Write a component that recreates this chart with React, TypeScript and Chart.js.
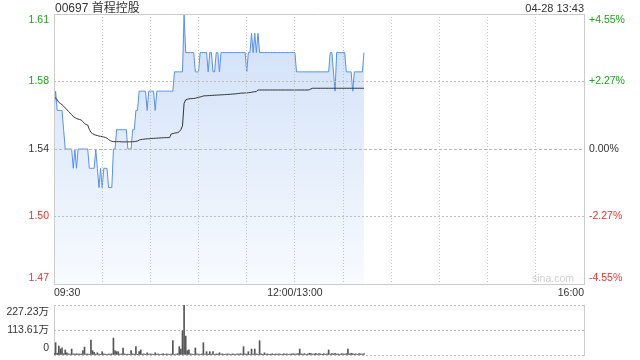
import React, { useEffect, useRef } from "react";
import { Chart, registerables } from "chart.js";

Chart.register(...registerables);

// ---------- texts ----------
const TITLE = "00697 首程控股";
const STAMP = "04-28 13:43";
const WATERMARK = "sina.com";

// ---------- axes ----------
const PRICE_MIN = 1.47;
const PRICE_MAX = 1.61;
const priceGridValues = [1.505, 1.575];
const PRICE_BASE = 1.54;
const priceLabelValues = [1.4731, 1.505, 1.54, 1.575, 1.6069];
const priceTickLabels = ["1.47", "1.50", "1.54", "1.58", "1.61"];
const pctTickLabels = ["-4.55%", "-2.27%", "0.00%", "+2.27%", "+4.55%"];
const timeTicks = [0, 30, 60, 90, 120, 150, 180, 210, 240, 270, 300, 330];
const timeTickLabels: Record<number, string> = { 0: "09:30", 150: "12:00/13:00", 330: "16:00" };
const VOL_MAX = 227.23;
const volGridValues = [0, 113.615, 227.23];
const volLabelValues = [31.8, 113.615, 195.4];
const volTickLabels = ["0", "113.61万", "227.23万"];

// ---------- series (one value per trading minute from 09:30) ----------
const price = [
  1.56, 1.57, 1.56, 1.56, 1.56, 1.56, 1.55, 1.54, 1.54, 1.54,
  1.54, 1.54, 1.53, 1.54, 1.53, 1.54, 1.54, 1.54, 1.54, 1.54,
  1.54, 1.54, 1.53, 1.53, 1.53, 1.53, 1.54, 1.53, 1.52, 1.53,
  1.52, 1.53, 1.53, 1.53, 1.52, 1.52, 1.52, 1.54, 1.54, 1.55,
  1.55, 1.55, 1.55, 1.55, 1.55, 1.55, 1.54, 1.54, 1.54, 1.55,
  1.55, 1.56, 1.56, 1.57, 1.57, 1.57, 1.57, 1.57, 1.56, 1.57,
  1.57, 1.57, 1.57, 1.56, 1.57, 1.57, 1.57, 1.57, 1.57, 1.57,
  1.57, 1.57, 1.57, 1.57, 1.57, 1.58, 1.58, 1.58, 1.58, 1.58,
  1.58, 1.61, 1.59, 1.59, 1.59, 1.59, 1.59, 1.59, 1.58, 1.58,
  1.58, 1.59, 1.59, 1.59, 1.59, 1.59, 1.58, 1.59, 1.59, 1.58,
  1.58, 1.59, 1.59, 1.58, 1.59, 1.59, 1.59, 1.59, 1.59, 1.59,
  1.59, 1.59, 1.59, 1.59, 1.59, 1.59, 1.59, 1.59, 1.59, 1.59,
  1.58, 1.59, 1.59, 1.60, 1.59, 1.60, 1.59, 1.60, 1.59, 1.59,
  1.59, 1.59, 1.59, 1.59, 1.59, 1.59, 1.59, 1.59, 1.59, 1.59,
  1.59, 1.59, 1.59, 1.59, 1.59, 1.59, 1.59, 1.59, 1.59, 1.59,
  1.59, 1.58, 1.58, 1.58, 1.58, 1.58, 1.58, 1.58, 1.58, 1.58,
  1.58, 1.58, 1.58, 1.58, 1.58, 1.58, 1.58, 1.58, 1.58, 1.58,
  1.58, 1.58, 1.59, 1.59, 1.58, 1.57, 1.59, 1.59, 1.59, 1.59,
  1.59, 1.59, 1.58, 1.58, 1.58, 1.58, 1.57, 1.58, 1.58, 1.58,
  1.58, 1.58, 1.58, 1.59,
];

const avgPrice = [
  1.5670, 1.5665, 1.5655, 1.5642, 1.5636, 1.5630, 1.5622, 1.5613, 1.5604, 1.5595,
  1.5587, 1.5578, 1.5568, 1.5563, 1.5558, 1.5555, 1.5553, 1.5550, 1.5541, 1.5532,
  1.5527, 1.5524, 1.5502, 1.5486, 1.5480, 1.5475, 1.5472, 1.5470, 1.5467, 1.5466,
  1.5464, 1.5462, 1.5460, 1.5456, 1.5449, 1.5443, 1.5440, 1.5438, 1.5438, 1.5438,
  1.5438, 1.5438, 1.5437, 1.5437, 1.5437, 1.5437, 1.5437, 1.5437, 1.5437, 1.5438,
  1.5438, 1.5440, 1.5441, 1.5446, 1.5449, 1.5450, 1.5451, 1.5452, 1.5453, 1.5453,
  1.5454, 1.5455, 1.5455, 1.5456, 1.5456, 1.5457, 1.5457, 1.5458, 1.5458, 1.5459,
  1.5459, 1.5459, 1.5460, 1.5478, 1.5480, 1.5482, 1.5484, 1.5485, 1.5490, 1.5500,
  1.5520, 1.5637, 1.5655, 1.5658, 1.5660, 1.5661, 1.5662, 1.5662, 1.5663, 1.5666,
  1.5668, 1.5670, 1.5672, 1.5675, 1.5676, 1.5676, 1.5677, 1.5677, 1.5678, 1.5678,
  1.5679, 1.5679, 1.5680, 1.5680, 1.5681, 1.5681, 1.5682, 1.5682, 1.5683, 1.5683,
  1.5684, 1.5685, 1.5685, 1.5686, 1.5687, 1.5688, 1.5689, 1.5690, 1.5690, 1.5691,
  1.5691, 1.5692, 1.5693, 1.5694, 1.5696, 1.5697, 1.5698, 1.5706, 1.5706, 1.5706,
  1.5706, 1.5706, 1.5706, 1.5706, 1.5706, 1.5706, 1.5706, 1.5706, 1.5706, 1.5706,
  1.5706, 1.5706, 1.5706, 1.5706, 1.5706, 1.5706, 1.5706, 1.5706, 1.5706, 1.5706,
  1.5706, 1.5706, 1.5706, 1.5706, 1.5706, 1.5706, 1.5706, 1.5706, 1.5706, 1.5707,
  1.5712, 1.5715, 1.5715, 1.5715, 1.5715, 1.5715, 1.5715, 1.5715, 1.5715, 1.5715,
  1.5715, 1.5715, 1.5715, 1.5715, 1.5715, 1.5715, 1.5715, 1.5715, 1.5715, 1.5715,
  1.5715, 1.5715, 1.5715, 1.5715, 1.5715, 1.5715, 1.5715, 1.5715, 1.5715, 1.5715,
  1.5715, 1.5715, 1.5715, 1.5715,
];

// volume in 万 shares
const volume = [
  8, 56, 8, 41, 27, 33, 6, 23, 10, 5,
  4, 27, 5, 4, 6, 4, 5, 4, 20, 36,
  4, 5, 3, 68, 20, 12, 4, 10, 4, 3,
  15, 5, 4, 3, 5, 4, 5, 77, 20, 15,
  15, 4, 5, 32, 5, 3, 4, 3, 20, 5,
  4, 38, 3, 15, 23, 4, 5, 3, 10, 4,
  5, 4, 3, 10, 4, 5, 3, 4, 6, 3,
  5, 4, 3, 4, 65, 3, 4, 6, 38, 27,
  110, 227.23, 86, 20, 23, 5, 4, 3, 32, 5,
  4, 3, 5, 56, 4, 15, 4, 15, 4, 15,
  3, 5, 4, 10, 4, 5, 3, 4, 5, 4,
  3, 5, 4, 3, 5, 4, 6, 4, 38, 5,
  4, 15, 3, 27, 4, 27, 5, 3, 65, 5,
  3, 10, 4, 5, 3, 4, 6, 3, 5, 4,
  5, 4, 3, 6, 4, 5, 3, 4, 5, 6,
  4, 5, 6, 27, 5, 4, 6, 3, 5, 8,
  6, 4, 5, 7, 4, 6, 5, 3, 6, 4,
  5, 23, 4, 6, 5, 8, 4, 5, 3, 6,
  5, 4, 6, 27, 5, 8, 6, 4, 5, 3,
  6, 5, 4, 7,
];

// ---------- styles ----------
const FONT_FAMILY = '"Liberation Sans", Arial, Helvetica, "Noto Sans CJK SC", sans-serif';
const GREEN = "#1ca21c";
const RED = "#f23030";
const DARK = "#333333";
const GRID = "#c2c2c2";
const HGRID = "#bdbdbd";
const FRAME = "#cccccc";
const CLEAR = "rgba(0,0,0,0)";
const tickColor = (i: number) => (i < 2 ? RED : i === 2 ? DARK : GREEN);

export default function App() {
  const priceRef = useRef<HTMLCanvasElement>(null);
  const volRef = useRef<HTMLCanvasElement>(null);

  useEffect(() => {
    const font = { family: FONT_FAMILY, size: 10.5 };
    const zeroPad = (s: any) => {
      s.paddingTop = 0;
      s.paddingBottom = 0;
      s.paddingLeft = 0;
      s.paddingRight = 0;
    };

    const priceChart = new Chart(priceRef.current!, {
      type: "line",
      data: {
        datasets: [
          {
            label: "均价",
            data: avgPrice.map((v, i) => ({ x: i, y: v })),
            borderColor: "#333333",
            borderWidth: 1,
            pointRadius: 0,
            fill: false,
            order: 1,
            xAxisID: "x",
            yAxisID: "y",
          },
          {
            label: "价格",
            data: price.map((v, i) => ({ x: i, y: v })),
            borderColor: "#5790ec",
            borderWidth: 1,
            pointRadius: 0,
            fill: "start",
            order: 2,
            xAxisID: "x",
            yAxisID: "y",
            backgroundColor: (ctx: any) => {
              const area = ctx.chart.chartArea;
              if (!area) return "rgba(208,224,249,0.8)";
              const g = ctx.chart.ctx.createLinearGradient(0, area.top, 0, area.bottom);
              g.addColorStop(0, "#cfdff8");
              g.addColorStop(1, "#f8fbff");
              return g;
            },
          },
        ],
      },
      options: {
        responsive: false,
        animation: false,
        events: [],
        layout: { padding: 0 },
        plugins: { legend: { display: false }, tooltip: { enabled: false } },
        scales: {
          x: {
            type: "linear",
            position: "bottom",
            min: 0,
            max: 330,
            afterBuildTicks: (s: any) => {
              s.ticks = timeTicks.map((v) => ({ value: v }));
            },
            afterFit: (s: any) => {
              s.height = 16;
              zeroPad(s);
            },
            ticks: {
              autoSkip: false,
              maxRotation: 0,
              align: "inner",
              padding: 3,
              font,
              color: DARK,
              z: 1,
              callback: (v: any) => timeTickLabels[v as number] ?? "",
            },
            grid: {
              drawTicks: false,
              z: 1,
              color: (ctx: any) =>
                ctx.tick && (ctx.tick.value === 0 || ctx.tick.value === 330) ? CLEAR : GRID,
            },
            border: { display: true, color: FRAME, dash: [1, 2], z: 1 },
          },
          x2: {
            type: "linear",
            position: "top",
            min: 0,
            max: 330,
            ticks: { display: false, z: 1 },
            grid: { display: false, drawTicks: false, z: 1 },
            afterFit: (s: any) => {
              s.height = 14;
              zeroPad(s);
            },
            border: { display: true, color: FRAME, z: 1 },
          },
          y: {
            type: "linear",
            position: "left",
            weight: 1,
            min: PRICE_MIN,
            max: PRICE_MAX,
            afterBuildTicks: (s: any) => {
              s.ticks = priceLabelValues.map((v) => ({ value: v }));
            },
            afterFit: (s: any) => {
              s.width = 54;
              zeroPad(s);
            },
            ticks: {
              autoSkip: false,
              padding: 5,
              font,
              z: 1,
              color: (ctx: any) => tickColor(ctx.index),
              callback: (_v: any, i: number) => priceTickLabels[i],
            },
            grid: { display: false, drawTicks: false, z: 1 },
            border: { display: true, color: FRAME, z: 1 },
          },
          yg: {
            type: "linear",
            position: "left",
            weight: 0,
            min: PRICE_MIN,
            max: PRICE_MAX,
            afterBuildTicks: (s: any) => {
              s.ticks = priceGridValues.map((v) => ({ value: v }));
            },
            afterFit: (s: any) => {
              s.width = 0;
              zeroPad(s);
            },
            ticks: { display: false, z: 1 },
            grid: { drawTicks: false, z: 1, color: HGRID, lineWidth: 1 },
            border: { display: false, dash: [2, 2], z: 1 },
          },
          yb: {
            type: "linear",
            position: "right",
            weight: 0,
            min: PRICE_MIN,
            max: PRICE_MAX,
            afterBuildTicks: (s: any) => {
              s.ticks = [{ value: PRICE_BASE }];
            },
            afterFit: (s: any) => {
              s.width = 0;
              zeroPad(s);
            },
            ticks: { display: false, z: 1 },
            grid: { drawTicks: false, z: 1, color: "#b8b8b8", lineWidth: 1 },
            border: { display: false, dash: [3, 2], z: 1 },
          },
          yr: {
            type: "linear",
            position: "right",
            weight: 1,
            min: PRICE_MIN,
            max: PRICE_MAX,
            afterBuildTicks: (s: any) => {
              s.ticks = priceLabelValues.map((v) => ({ value: v }));
            },
            afterFit: (s: any) => {
              s.width = 56;
              zeroPad(s);
            },
            ticks: {
              autoSkip: false,
              padding: 5,
              font,
              z: 1,
              color: (ctx: any) => tickColor(ctx.index),
              callback: (_v: any, i: number) => pctTickLabels[i],
            },
            grid: { display: false, drawTicks: false, z: 1 },
            border: { display: true, color: FRAME, z: 1 },
          },
        },
      } as any,
    });

    const volChart = new Chart(volRef.current!, {
      type: "bar",
      data: {
        datasets: [
          {
            label: "成交量",
            data: volume.map((v, i) => ({ x: i, y: v })),
            backgroundColor: "#555555",
            barThickness: 1,
            xAxisID: "x",
            yAxisID: "y",
          },
        ],
      },
      options: {
        responsive: false,
        animation: false,
        events: [],
        layout: { padding: { top: 7, bottom: 5, left: 0, right: 0 } },
        plugins: { legend: { display: false }, tooltip: { enabled: false } },
        scales: {
          x: {
            type: "linear",
            min: 0,
            max: 330,
            offset: false,
            display: false,
            grid: { offset: false },
          },
          y: {
            type: "linear",
            position: "left",
            weight: 0,
            min: 0,
            max: VOL_MAX,
            afterBuildTicks: (s: any) => {
              s.ticks = volGridValues.map((v) => ({ value: v }));
            },
            afterFit: (s: any) => {
              s.width = 0;
              zeroPad(s);
            },
            ticks: { display: false },
            grid: { drawTicks: false, color: HGRID, lineWidth: 1 },
            border: { display: false, dash: [2, 2] },
          },
          yl: {
            type: "linear",
            position: "left",
            weight: 1,
            min: 0,
            max: VOL_MAX,
            afterBuildTicks: (s: any) => {
              s.ticks = volLabelValues.map((v) => ({ value: v }));
            },
            afterFit: (s: any) => {
              s.width = 54;
              zeroPad(s);
            },
            ticks: {
              autoSkip: false,
              padding: 5,
              font,
              color: DARK,
              callback: (_v: any, i: number) => volTickLabels[i],
            },
            grid: { display: false, drawTicks: false },
            border: { display: true, color: FRAME },
          },
          yr: {
            type: "linear",
            position: "right",
            min: 0,
            max: VOL_MAX,
            afterFit: (s: any) => {
              s.width = 56;
              zeroPad(s);
            },
            ticks: { display: false },
            grid: { display: false, drawTicks: false },
            border: { display: true, color: FRAME },
          },
        },
      } as any,
    });

    return () => {
      priceChart.destroy();
      volChart.destroy();
    };
  }, []);

  return (
    <div
      style={{
        position: "fixed",
        left: 0,
        top: 0,
        width: 640,
        height: 360,
        overflow: "hidden",
        background: "#ffffff",
      }}
    >
      <canvas ref={priceRef} width={640} height={300} style={{ position: "absolute", left: 0, top: 0 }} />
      <canvas ref={volRef} width={640} height={62} style={{ position: "absolute", left: 0, top: 298 }} />
      <div
        style={{
          position: "absolute",
          left: 55,
          top: 1,
          lineHeight: "14px",
          fontSize: 12,
          fontFamily: FONT_FAMILY,
          color: DARK,
          whiteSpace: "nowrap",
        }}
      >
        {TITLE}
      </div>
      <div
        style={{
          position: "absolute",
          right: 56,
          top: 1,
          lineHeight: "14px",
          fontSize: 11,
          fontFamily: FONT_FAMILY,
          color: DARK,
          whiteSpace: "nowrap",
        }}
      >
        {STAMP}
      </div>
      <div
        style={{
          position: "absolute",
          left: 532,
          top: 272,
          lineHeight: "13px",
          fontSize: 10.5,
          fontFamily: FONT_FAMILY,
          color: "#cfcfcf",
          whiteSpace: "nowrap",
        }}
      >
        {WATERMARK}
      </div>
    </div>
  );
}
